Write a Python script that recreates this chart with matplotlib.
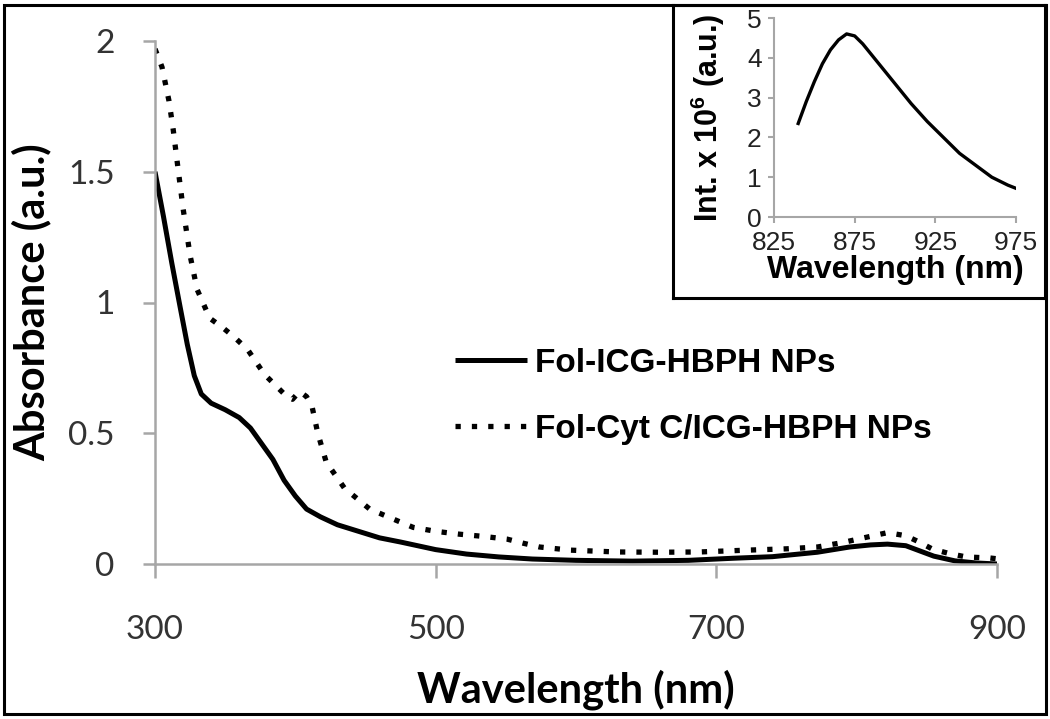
import matplotlib
matplotlib.use("Agg")
import matplotlib.pyplot as plt
from matplotlib.patches import Rectangle

# Данные основного графика (поглощение)
wl_fol_icg = [300, 306, 312, 318, 323, 328, 333, 340, 350, 360, 368, 376, 384, 392, 400,
              408, 418, 430, 445, 460, 475, 500, 522, 545, 569, 600, 640, 680, 712, 740,
              772, 795, 810, 822, 835, 845, 855, 870, 885, 900]
abs_fol_icg = [1.50, 1.33, 1.15, 0.98, 0.84, 0.72, 0.65, 0.615, 0.59, 0.56, 0.52, 0.46, 0.40, 0.32, 0.26,
               0.21, 0.18, 0.15, 0.125, 0.10, 0.084, 0.055, 0.038, 0.027, 0.019, 0.014, 0.011, 0.014, 0.022, 0.028,
               0.045, 0.065, 0.073, 0.076, 0.07, 0.05, 0.03, 0.012, 0.004, 0.0]

wl_fol_cyt = [300, 305, 310, 313, 316, 320, 325, 330, 339, 348, 356, 366, 378, 394, 398,
              403, 408, 412, 416, 422, 435, 453, 475, 484, 500, 517, 535, 551, 562, 574,
              596, 629, 660, 688, 722, 750, 772, 790, 805, 822, 835, 843, 854, 866, 878,
              895, 900]
abs_fol_cyt = [1.97, 1.90, 1.77, 1.66, 1.53, 1.36, 1.18, 1.05, 0.94, 0.905, 0.87, 0.82, 0.725, 0.64, 0.63,
               0.66, 0.64, 0.60, 0.50, 0.39, 0.29, 0.21, 0.16, 0.14, 0.125, 0.114, 0.105, 0.095, 0.08, 0.065,
               0.053, 0.046, 0.045, 0.046, 0.053, 0.058, 0.065, 0.082, 0.10, 0.12, 0.108, 0.088, 0.057, 0.04, 0.027,
               0.023, 0.02]

labels = ["Fol-ICG-HBPH NPs", "Fol-Cyt C/ICG-HBPH NPs"]

# Данные вставки (флуоресценция)
wl_em = [840, 845, 850, 855, 860, 865, 870, 875, 880, 890, 900, 910, 920, 930, 940, 950, 960, 970, 975]
int_em = [2.35, 2.9, 3.4, 3.85, 4.2, 4.45, 4.6, 4.55, 4.35, 3.85, 3.35, 2.85, 2.4, 2.0, 1.6, 1.3, 1.0, 0.8, 0.72]

main_xticks = [300, 500, 700, 900]
main_yticks = [0, 0.5, 1, 1.5, 2]
inset_xticks = [825, 875, 925, 975]
inset_yticks = [0, 1, 2, 3, 4, 5]

plt.rcParams['font.family'] = ['Lato', 'DejaVu Sans']
plt.rcParams['mathtext.fontset'] = 'custom'
plt.rcParams['mathtext.rm'] = 'Liberation Sans'
plt.rcParams['mathtext.bf'] = 'Liberation Sans:bold'

W, H = 1050, 719
fig = plt.figure(figsize=(W / 100, H / 100), dpi=100)

grey = '#a6a6a6'

# Основные оси
ax = fig.add_axes([155 / W, 1 - 564 / H, (997 - 155) / W, (564 - 41) / H])
ax.plot(wl_fol_icg, abs_fol_icg, color='black', lw=3.6, label=labels[0], solid_capstyle='butt')
ax.plot(wl_fol_cyt, abs_fol_cyt, color='black', lw=3.8, linestyle=(0, (1, 2.1)),
        dash_capstyle='butt', label=labels[1])
ax.set_xlim(300, 900)
ax.set_ylim(0, 2)
ax.set_xticks(main_xticks)
ax.set_yticks(main_yticks)
ax.set_yticklabels(['0', '0.5', '1', '1.5', '2'])
for s in ['top', 'right']:
    ax.spines[s].set_visible(False)
for s in ['left', 'bottom']:
    ax.spines[s].set_color(grey)
    ax.spines[s].set_linewidth(1.8)
ax.tick_params(axis='both', colors=grey, width=1.8, labelcolor='#333333', labelsize=24)
ax.tick_params(axis='y', length=9, pad=20)
ax.tick_params(axis='x', length=10, pad=27)
ax.set_xlabel('Wavelength (nm)', fontsize=30, fontweight='bold', labelpad=17)
ax.set_ylabel('Absorbance (a.u.)', fontsize=30, fontweight='bold', labelpad=12)

leg = ax.legend(loc='upper left', bbox_to_anchor=(455 / W, 1 - 348 / H),
                bbox_transform=fig.transFigure, frameon=False, borderpad=0, borderaxespad=0,
                handlelength=2.15, handletextpad=0.25, labelspacing=1.05,
                prop={'family': 'Liberation Sans', 'weight': 'bold', 'size': 24})

# Рамка вставки
frame = fig.add_axes([673 / W, 1 - 298 / H, (1045 - 673) / W, (298 - 5) / H])
frame.set_xticks([])
frame.set_yticks([])
for s in frame.spines.values():
    s.set_linewidth(2.2)
    s.set_color('black')

# Вставка
inset = fig.add_axes([774 / W, 1 - 217 / H, (1016 - 774) / W, (217 - 18) / H])
inset.plot(wl_em, int_em, color='black', lw=2.4)
inset.set_xlim(825, 975)
inset.set_ylim(0, 5)
inset.set_xticks(inset_xticks)
inset.set_yticks(inset_yticks)
for s in ['top', 'right']:
    inset.spines[s].set_visible(False)
for s in ['left', 'bottom']:
    inset.spines[s].set_color(grey)
    inset.spines[s].set_linewidth(1.5)
inset.tick_params(axis='both', colors=grey, width=1.5, length=4,
                  labelcolor='#222222', labelsize=19)
inset.tick_params(axis='x', pad=6)
inset.tick_params(axis='y', pad=5)
for lab in inset.get_xticklabels() + inset.get_yticklabels():
    lab.set_family('Liberation Sans')
inset.set_xlabel('Wavelength (nm)', fontsize=23, fontweight='bold', family='Liberation Sans', labelpad=0)
inset.set_ylabel(r'Int. x 10$^{\mathbf{6}}$ (a.u.)', fontsize=22, fontweight='bold',
                 family='Liberation Sans', labelpad=14)

# Внешняя рамка рисунка
fig.add_artist(Rectangle((4 / W, 5 / H), (1046 - 4) / W, (714 - 5) / H, transform=fig.transFigure,
                         fill=False, edgecolor='black', lw=2.2, zorder=10))

fig.savefig('out.png', dpi=100)
